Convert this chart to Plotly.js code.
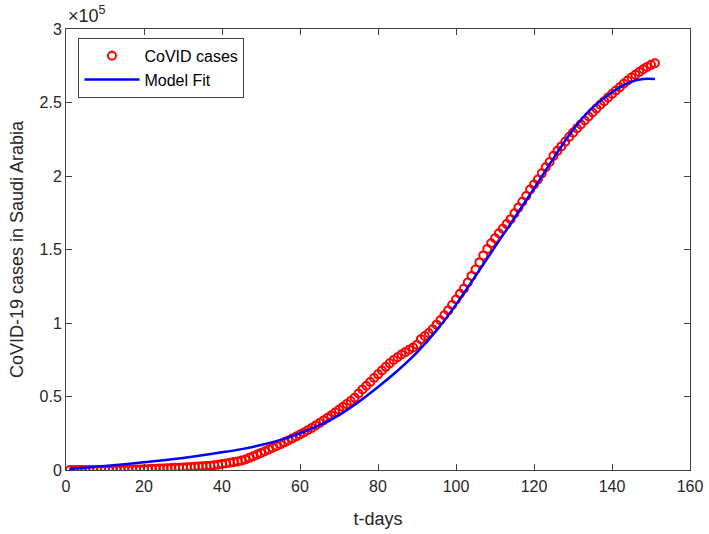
<!DOCTYPE html>
<html>
<head>
<meta charset="utf-8">
<script src="https://cdn.plot.ly/plotly-3.0.1.min.js"></script>
<style>html,body{margin:0;padding:0;background:#fff;}#chart{width:709px;height:534px;}</style>
</head>
<body>
<div id="chart"></div>
<script>
// Reported cumulative cases, days 1..151
const caseDays = [];
for (let d = 1; d <= 151; d++) caseDays.push(d);
const caseCounts = [
  1, 2, 5, 5, 5, 11, 15, 20, 21, 45,
  62, 103, 118, 133, 171, 238, 274, 344, 392, 511,
  562, 767, 900, 1012, 1104, 1203, 1299, 1453, 1563, 1720,
  1885, 2039, 2179, 2402, 2605, 2795, 2932, 3287, 3651, 4033,
  4462, 4934, 5369, 5862, 6380, 7142, 8274, 9362, 10484, 11631,
  12772, 13930, 15102, 16299, 17522, 18811, 20077, 21402, 22753, 24097,
  25459, 27011, 28656, 30251, 31938, 33731, 35432, 37136, 39048, 41014,
  42925, 44830, 46869, 49176, 52016, 54752, 57345, 59854, 62545, 65077,
  67719, 70161, 72560, 74795, 76726, 78541, 80185, 81766, 83384, 85261,
  89011, 91182, 93157, 95748, 98869, 101914, 105283, 108571, 112288, 116021,
  119942, 123308, 127541, 132048, 136315, 141234, 145991, 150292, 154233, 157612,
  161005, 164144, 167267, 170639, 174577, 178504, 182493, 186436, 190823, 194225,
  197608, 201801, 205929, 209509, 213716, 217108, 220144, 223327, 226486, 229480,
  232259, 235111, 237803, 240474, 243238, 245851, 248416, 250920, 253349, 255825,
  258156, 260394, 262772, 264973, 266941, 268934, 270831, 272590, 274219, 275600,
  276700
];

// Model fit
const fitDays = [1, 5, 10, 15, 20, 25, 30, 35, 40, 45, 50, 55, 60, 65, 70, 75, 80, 85, 90, 95,
                 100, 105, 110, 115, 120, 125, 130, 135, 140, 145, 148, 151];
const fitCounts = [800, 1600, 2700, 3900, 5200, 6600, 8200, 10000, 12000, 14200, 17000, 20500, 25000, 30500, 37300, 46300, 56500, 67500, 80000, 95000,
                   112500, 132000, 151800, 171600, 191500, 212000, 231500, 246500, 257000, 264200, 266000, 266000];

const xTickVals = [0, 20, 40, 60, 80, 100, 120, 140, 160];
const yTickVals = [0, 50000, 100000, 150000, 200000, 250000, 300000];
const yTickText = ['0', '0.5', '1', '1.5', '2', '2.5', '3'];

const axisColor = '#404040';
const textColor = '#262626';
const fontFam = 'Liberation Sans, Arial, Helvetica, sans-serif';

const traces = [
  {
    x: caseDays, y: caseCounts, type: 'scatter', mode: 'markers', name: 'CoVID cases',
    marker: {symbol: 'circle-open', size: 8, color: '#ff0000', line: {width: 2, color: '#ff0000'}}
  },
  {
    x: fitDays, y: fitCounts, type: 'scatter', mode: 'lines', name: 'Model Fit',
    line: {color: '#0000ff', width: 2.5, shape: 'spline', smoothing: 1}
  }
];

const layout = {
  width: 709, height: 534,
  margin: {l: 65.5, r: 18.5, t: 29, b: 64},
  paper_bgcolor: '#ffffff', plot_bgcolor: '#ffffff',
  font: {family: fontFam, size: 16, color: textColor},
  showlegend: true,
  legend: {
    x: 0.02, y: 0.98, xanchor: 'left', yanchor: 'top',
    bgcolor: '#ffffff', bordercolor: axisColor, borderwidth: 1,
    font: {family: fontFam, size: 16, color: '#000000'},
    itemwidth: 55, tracegroupgap: 0
  },
  xaxis: {
    range: [0, 160], tickvals: xTickVals, ticks: 'inside', ticklen: 6, tickcolor: axisColor,
    showline: true, linecolor: axisColor, linewidth: 1, mirror: 'ticks',
    showgrid: false, zeroline: false, ticklabelstandoff: 2,
    tickfont: {family: fontFam, size: 16, color: textColor},
    title: {text: 't-days', font: {family: fontFam, size: 18, color: textColor}, standoff: 18}
  },
  yaxis: {
    range: [0, 300000], tickvals: yTickVals, ticktext: yTickText, ticks: 'inside', ticklen: 6, tickcolor: axisColor,
    showline: true, linecolor: axisColor, linewidth: 1, mirror: 'ticks',
    showgrid: false, zeroline: false,
    tickfont: {family: fontFam, size: 16, color: textColor},
    title: {text: 'CoVID-19 cases in Saudi Arabia', font: {family: fontFam, size: 18, color: textColor}, standoff: 11}
  },
  annotations: [{
    text: '\u00d710<sup>5</sup>', xref: 'paper', yref: 'paper', x: 0, y: 1, xanchor: 'left', yanchor: 'bottom',
    showarrow: false, font: {family: fontFam, size: 18, color: textColor}, xshift: 0, yshift: 1
  }]
};

Plotly.newPlot('chart', traces, layout, {displayModeBar: false, staticPlot: true});
</script>
</body>
</html>
